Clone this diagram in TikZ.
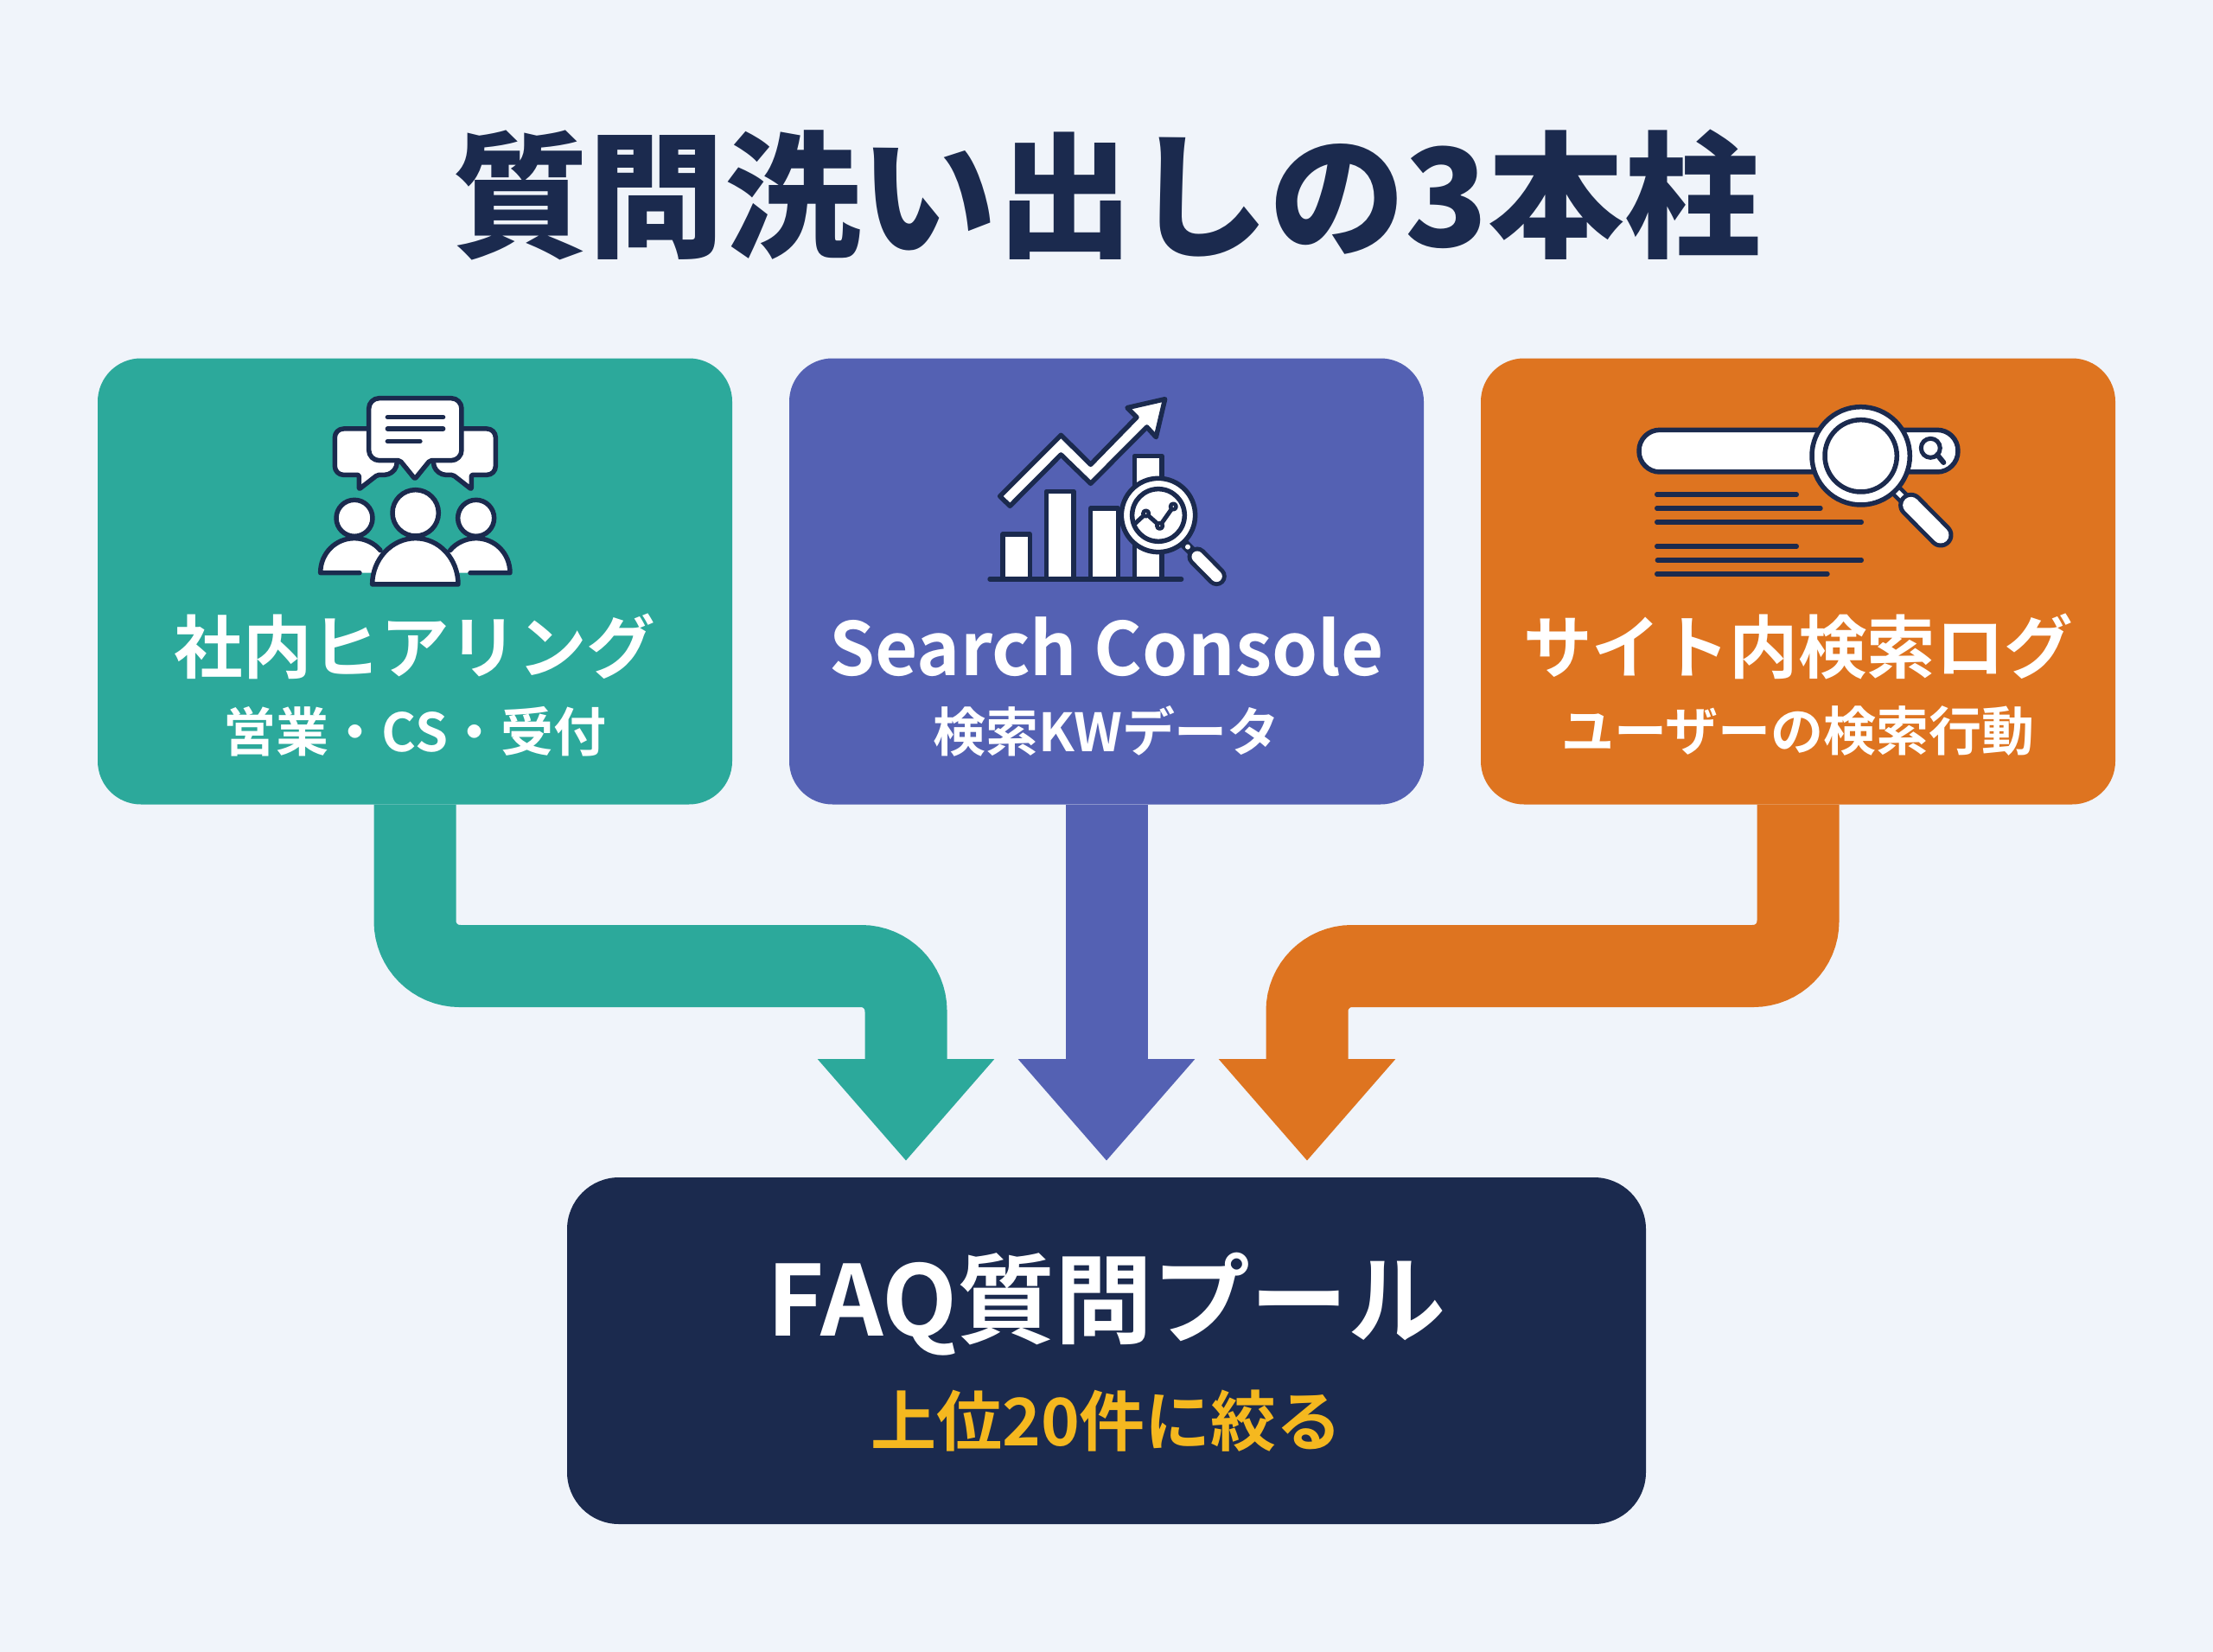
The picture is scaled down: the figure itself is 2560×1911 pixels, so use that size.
\documentclass[tikz,border=0pt]{standalone}
\usepackage{fontspec}
\usetikzlibrary{arrows.meta}
\setmainfont{Noto Sans CJK JP}[BoldFont=* Bold]
\newfontfamily\blackfont{Noto Sans CJK JP Black}
\definecolor{pageBg}{HTML}{F0F4FA}
\definecolor{tealC}{HTML}{2CA99B}
\definecolor{indigoC}{HTML}{5461B3}
\definecolor{orangeC}{HTML}{DE7420}
\definecolor{navyC}{HTML}{1B2A4E}
\definecolor{goldC}{HTML}{F5B81F}
\tikzset{
  panel/.style={rounded corners=50pt, minimum width=734pt, minimum height=516pt, inner sep=0pt},
  pipe/.style={line width=95pt, rounded corners=52pt, -{Triangle[width=197pt,length=118pt]}},
  head/.style={white, font=\bfseries\fontsize{79.5}{80}\selectfont, inner sep=0pt},
  sub/.style={white, font=\bfseries\fontsize{61}{61}\selectfont, inner sep=0pt},
  icon/.style={draw=navyC, fill=white, line width=5.5pt, line join=round},
  ink/.style={draw=navyC, line width=5.4pt, line cap=round, line join=round},
}
\begin{document}
\begin{tikzpicture}[x=1pt,y=-1pt]
    \useasboundingbox (0,0) rectangle (2560,1911);
    \fill[pageBg] (0,0) rectangle (2560,1911);
    % Title
    \node[navyC, font=\blackfont\fontsize{157.5}{158}\selectfont, inner sep=0pt] (title) at (1280,225) {質問洗い出しの3本柱};
    % Panels
    \node[panel, fill=tealC] (hear) at (480,672.5) {};
    \node[panel, fill=indigoC] (console) at (1280,672.5) {};
    \node[panel, fill=orangeC] (sitelog) at (2080,672.5) {};
    \node[panel, fill=navyC, rounded corners=60pt, minimum width=1248pt, minimum height=401pt] (pool) at (1280,1562.5) {};
    % Connectors
    \coordinate (tipA) at (1048,1343);
    \coordinate (tipB) at (1280,1343);
    \coordinate (tipC) at (1512,1343);
    \draw[pipe, tealC] (hear.south) -- (480,1117.5) -- (1048,1117.5) -- (tipA);
    \draw[pipe, indigoC] (console.south) -- (tipB);
    \draw[pipe, orangeC] (sitelog.south) -- (2080,1117.5) -- (1512,1117.5) -- (tipC);
    % Panel texts
    \node[head] (hearT) at (480,748) {社内ヒアリング};
    \node[sub] (hearS) at (480,846) {営業・CS・受付};
    \node[head, font=\bfseries\fontsize{85}{85}\selectfont] (consoleT) at (1280,748) {Search Console};
    \node[sub] (consoleS) at (1280,846) {検索KWデータ};
    \node[head] (sitelogT) at (2080,748) {サイト内検索ログ};
    \node[sub] (sitelogS) at (2080,846) {ユーザーの検索行動};
    \node[white, font=\bfseries\fontsize{113}{113}\selectfont, inner sep=0pt] (poolT) at (1280,1509) {FAQ質問プール};
    \node[goldC, font=\bfseries\fontsize{76}{76}\selectfont, inner sep=0pt] (poolS) at (1280,1644) {上位20件に絞る};
    % Icon: people talking
    \begin{scope}[shift={(340,430)},x=0.3333pt,y=-0.3333pt]
        \draw[icon, rounded corners=10pt] (300,198) -- (142,198) -- (142,358) [rounded corners=2pt] -- (226,358) -- (226,408) -- (290,358) [rounded corners=10pt] -- (345,358) -- (365,300) -- cycle;
        \draw[icon, rounded corners=10pt] (540,198) -- (700,198) -- (700,358) [rounded corners=2pt] -- (616,358) -- (616,408) -- (552,358) [rounded corners=10pt] -- (497,358) -- (477,300) -- cycle;
        \draw[icon, rounded corners=12pt] (260,92) -- (582,92) -- (582,308) [rounded corners=2pt] -- (472,308) -- (420,372) -- (368,308) [rounded corners=12pt] -- (260,308) -- cycle;
        \draw[ink] (325,158) -- (518,158) (325,198) -- (518,198) (325,242) -- (438,242);
        \draw[icon] (210,508) circle (63);
        \draw[icon] (632,508) circle (63);
        \draw[icon] (422,490) circle (80);
        \fill[white] (320,698) -- (92,698) .. controls (92,630) and (145,578) .. (210,578) .. controls (245,578) and (280,595) .. (300,620) -- cycle;
        \fill[white] (522,698) -- (750,698) .. controls (750,630) and (697,578) .. (632,578) .. controls (597,578) and (562,595) .. (542,620) -- cycle;
        \draw[ink, line width=5.5pt] (228,698) -- (92,698) .. controls (92,630) and (145,578) .. (210,578) .. controls (245,578) and (280,595) .. (300,620);
        \draw[ink, line width=5.5pt] (612,698) -- (750,698) .. controls (750,630) and (697,578) .. (632,578) .. controls (597,578) and (562,595) .. (542,620);
        \draw[icon] (272,738) .. controls (272,650) and (340,578) .. (422,578) .. controls (505,578) and (570,650) .. (570,738) -- cycle;
    \end{scope}
    % Icon: rising chart
    \begin{scope}[shift={(1120,440)},x=0.3333pt,y=-0.3333pt]
        \draw[icon] (120,534) rectangle (214,690);
        \draw[icon] (272,385) rectangle (366,690);
        \draw[icon] (425,444) rectangle (520,690);
        \draw[icon] (578,262) rectangle (672,690);
        \draw[ink] (75,690) -- (740,690);
        \draw[icon] (110,402) -- (322,190) -- (425,292) -- (585,128) -- (552,95) -- (683,65) -- (652,197) -- (620,162) -- (425,358) -- (322,258) -- (145,436) -- cycle;
        \draw[draw=navyC, line width=11pt] (745,562) -- (785,602);
        \draw[draw=navyC, line width=23pt, line cap=round] (795,612) -- (862,680);
        \draw[draw=white, line width=13pt, line cap=round] (795,612) -- (862,680);
        \fill[white] (762,578) circle (9);
        \draw[icon] (660,468) circle (128);
        \draw[icon] (660,468) circle (91);
        \draw[ink, line width=5pt] (578,498) -- (617,462) -- (665,505) -- (712,438);
        \draw[icon, line width=4.5pt] (617,462) circle (10);
        \draw[icon, line width=4.5pt] (665,505) circle (10);
        \draw[icon, line width=4.5pt] (712,438) circle (10);
    \end{scope}
    % Icon: search bar
    \begin{scope}[shift={(1860,450)},x=0.3333pt,y=-0.3333pt]
        \draw[icon, rounded corners=24pt] (108,142) rectangle (1215,288);
        \draw[ink, line width=5pt] (1120,205) circle (33);
        \draw[ink, line width=6pt] (1143,228) -- (1165,255);
        \draw[ink] (170,366) -- (655,366) (170,414) -- (738,414) (170,462) -- (880,462);
        \draw[ink] (170,546) -- (655,546) (172,594) -- (880,594) (170,642) -- (762,642);
        \draw[draw=navyC, line width=15pt] (1000,352) -- (1040,392);
        \draw[draw=white, line width=6pt] (1000,352) -- (1032,384);
        \draw[draw=navyC, line width=29pt, line cap=round] (1052,403) -- (1155,507);
        \draw[draw=white, line width=19pt, line cap=round] (1052,403) -- (1155,507);
        \draw[icon] (878,232) circle (170);
        \draw[icon] (878,232) circle (125);
    \end{scope}
\end{tikzpicture}
\end{document}
